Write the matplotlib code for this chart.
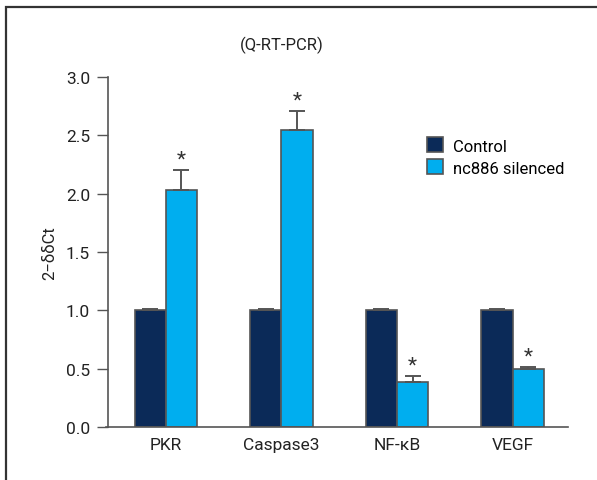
import numpy as np
import matplotlib
matplotlib.use("Agg")
from matplotlib import pyplot as plt
from matplotlib.patches import Rectangle

plt.rcParams['font.family'] = ['Roboto', 'DejaVu Sans']

genes = ["PKR", "Caspase3", "NF-κB", "VEGF"]
control = [1.0, 1.0, 1.0, 1.0]
control_err = [0.01, 0.01, 0.01, 0.01]
silenced = [2.03, 2.55, 0.39, 0.50]
silenced_err = [0.17, 0.16, 0.045, 0.012]
series = ["Control", "nc886 silenced"]

dark = "#0b2a58"
light = "#00aeef"
edge = "#555555"

fig = plt.figure(figsize=(5.97, 4.81), dpi=100)
fig.patches.append(Rectangle((6/597, -0.1), 1.2, 1 - 8/481 + 0.1, transform=fig.transFigure,
                             fill=False, edgecolor="#333333", linewidth=1.6))
ax = fig.add_axes([108/597, 1 - 428/481, 460/597, 350/481])

x = np.arange(len(genes))
w = 0.27
ekw = dict(ecolor=edge, elinewidth=1.4, capsize=6, capthick=1.4)
ax.bar(x - w/2, control, w, color=dark, edgecolor=edge, linewidth=1.2, label=series[0],
       yerr=[np.zeros(4), control_err], error_kw=ekw)
ax.bar(x + w/2, silenced, w, color=light, edgecolor=edge, linewidth=1.2, label=series[1],
       yerr=[np.zeros(4), silenced_err], error_kw=ekw)

for xi, v, e in zip(x, silenced, silenced_err):
    ax.annotate("*", (xi + w/2, v + e), xytext=(0, 1), textcoords="offset points",
                ha="center", va="bottom", fontsize=15, color="#333333")

ax.set_xlim(-0.5, 3.48)
ax.set_ylim(0, 3.0)
ax.set_yticks(np.arange(0, 3.01, 0.5))
ax.set_yticklabels([f"{t:.1f}" for t in np.arange(0, 3.01, 0.5)])
ax.set_xticks(x)
ax.set_xticklabels(genes)
ax.tick_params(axis="y", length=8, width=1, color=edge, labelsize=12.5, pad=5, labelcolor="#222222")
ax.tick_params(axis="x", length=0, labelsize=12.5, pad=7, labelcolor="#222222")
for s in ["top", "right"]:
    ax.spines[s].set_visible(False)
for s in ["left", "bottom"]:
    ax.spines[s].set_color(edge)
    ax.spines[s].set_linewidth(1.2)
ax.spines["bottom"].set_bounds(-0.52, 3.48)

ax.set_ylabel("2−δδCt", fontsize=12, color="#222222", labelpad=6)
fig.text(282/597, 1 - 45/481, "(Q-RT-PCR)", ha="center", va="center", fontsize=12, color="#222222")

ax.legend(loc="upper left", bbox_to_anchor=(0.66, 0.87), frameon=False, fontsize=12,
          handlelength=1.0, handleheight=1.0, handletextpad=0.6, labelspacing=0.35)

fig.savefig("out.png", dpi=100)
